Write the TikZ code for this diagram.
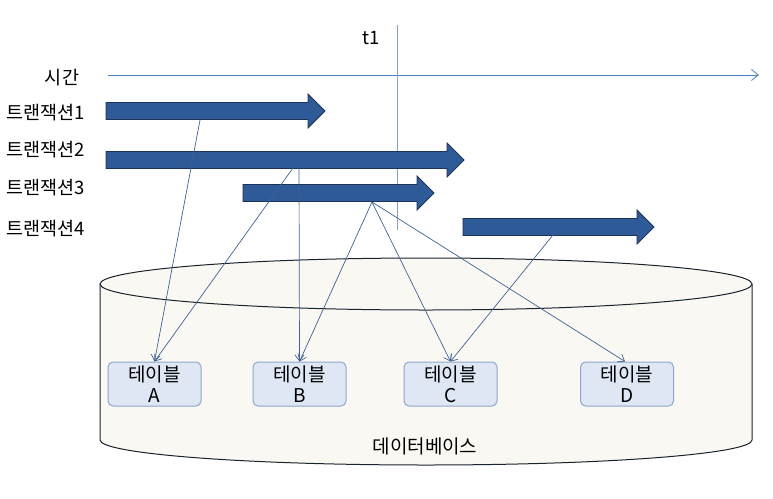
\documentclass[tikz,border=0pt]{standalone}
\usepackage{fontspec}
\setmainfont{Noto Sans CJK KR}
\usetikzlibrary{arrows.meta}
\definecolor{barfill}{RGB}{46,90,152}
\definecolor{bardraw}{RGB}{28,50,88}
\definecolor{linkcol}{RGB}{62,98,150}
\definecolor{axiscol}{RGB}{79,129,189}
\definecolor{tonecol}{RGB}{140,160,185}
\definecolor{dbfill}{RGB}{250,248,243}
\definecolor{dbdraw}{RGB}{25,35,45}
\definecolor{tabfill}{RGB}{222,231,243}
\definecolor{tabdraw}{RGB}{140,168,205}
\tikzset{
  lbl/.style={font=\fontsize{18.5}{22}\selectfont, inner sep=0pt},
  txbar/.style={fill=barfill, draw=bardraw, line width=0.9pt, line join=miter},
  link/.style={draw=linkcol, line width=0.7pt, -{Straight Barb[length=6pt,width=9pt]}},
  tabbox/.style={draw=tabdraw, fill=tabfill, line width=1pt, rounded corners=5pt,
    minimum width=93pt, minimum height=44pt, inner sep=0pt, align=center,
    font=\fontsize{19}{21}\selectfont},
}
% \txarrow{x1}{xtip}{yc}
\newcommand{\txarrow}[3]{%
  \path[txbar] (#1,-#3+8.5) -- ({#2-17},-#3+8.5) -- ({#2-17},-#3+17) -- (#2,-#3)
    -- ({#2-17},-#3-17) -- ({#2-17},-#3-8.5) -- (#1,-#3-8.5) -- cycle;}
\begin{document}
\begin{tikzpicture}[x=1pt,y=1pt]
\useasboundingbox (0,0) rectangle (773,-498);
% database cylinder
\path[fill=dbfill, draw=dbdraw, line width=1pt]
  (100,-284) -- (100,-440) arc[start angle=180, end angle=360, x radius=326, y radius=25]
  -- (752,-284);
\draw[dbdraw, fill=dbfill, line width=1pt] (426,-284) ellipse[x radius=326, y radius=26];
\node[lbl, font=\fontsize{19}{22}\selectfont] (db) at (425,-446) {데이터베이스};
% tables
\node[tabbox] (A) at (154.5,-384) {테이블\\A};
\node[tabbox] (B) at (299.5,-384) {테이블\\B};
\node[tabbox] (C) at (450.5,-384) {테이블\\C};
\node[tabbox] (D) at (627,-384) {테이블\\D};
% time axis
\coordinate (ax0) at (108,-75);
\coordinate (ax1) at (759,-75);
\draw[axiscol, line width=0.8pt, -{Straight Barb[length=7pt,width=11pt]}] (ax0) -- (ax1);
\node[lbl] (time) at (62,-78) {시간};
% t1 line
\coordinate (t1top) at (397,-25);
\coordinate (t1bot) at (397,-230);
\draw[tonecol, line width=1pt] (t1top) -- (t1bot);
\node[lbl] (t1) at (371,-38) {t1};
% transaction labels
\node[lbl, anchor=west] (L1) at (6,-113) {트랜잭션1};
\node[lbl, anchor=west] (L2) at (6,-150) {트랜잭션2};
\node[lbl, anchor=west] (L3) at (6,-188) {트랜잭션3};
\node[lbl, anchor=west] (L4) at (6,-229) {트랜잭션4};
% transaction arrows
\txarrow{106}{325}{111}
\txarrow{106}{464}{160}
\txarrow{243}{434}{193}
\txarrow{463}{654}{227}
\coordinate (s1) at (200,-120);
\coordinate (s2a) at (293,-168);
\coordinate (s2b) at (299,-168);
\coordinate (s3) at (372,-202);
\coordinate (s4) at (553,-235);
% connectors
\draw[link] (s1) -- (A.north);
\draw[link] (s2a) -- (A.north);
\draw[link] (s2b) -- (B.north);
\draw[link] (s3) -- (B.north);
\draw[link] (s3) -- (C.north);
\draw[link] (s3) -- ([xshift=-2pt]D.north);
\draw[link] (s4) -- (C.north);
\end{tikzpicture}
\end{document}
